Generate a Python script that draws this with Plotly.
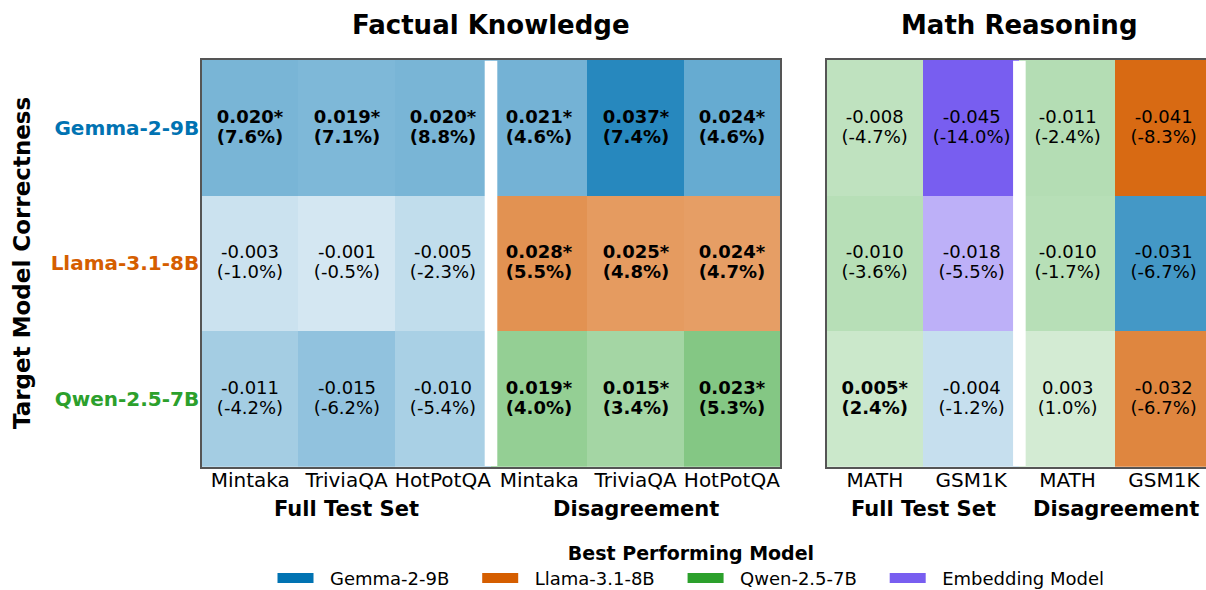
import plotly.graph_objects as go

# ---------------- data ----------------
rows = ["Gemma-2-9B", "Llama-3.1-8B", "Qwen-2.5-7B"]

fk_cols = ["Mintaka", "TriviaQA", "HotPotQA", "Mintaka", "TriviaQA", "HotPotQA"]
fk_groups = ["Full Test Set"] * 3 + ["Disagreement"] * 3
fk_delta = [
    [0.020, 0.019, 0.020, 0.021, 0.037, 0.024],
    [-0.003, -0.001, -0.005, 0.028, 0.025, 0.024],
    [-0.011, -0.015, -0.010, 0.019, 0.015, 0.023],
]
fk_pct = [
    [7.6, 7.1, 8.8, 4.6, 7.4, 4.6],
    [-1.0, -0.5, -2.3, 5.5, 4.8, 4.7],
    [-4.2, -6.2, -5.4, 4.0, 3.4, 5.3],
]
fk_sig = [
    [True, True, True, True, True, True],
    [False, False, False, True, True, True],
    [False, False, False, True, True, True],
]
fk_best = [
    ["Gemma-2-9B"] * 6,
    ["Gemma-2-9B"] * 3 + ["Llama-3.1-8B"] * 3,
    ["Gemma-2-9B"] * 3 + ["Qwen-2.5-7B"] * 3,
]

math_cols = ["MATH", "GSM1K", "MATH", "GSM1K"]
math_groups = ["Full Test Set"] * 2 + ["Disagreement"] * 2
math_delta = [
    [-0.008, -0.045, -0.011, -0.041],
    [-0.010, -0.018, -0.010, -0.031],
    [0.005, -0.004, 0.003, -0.032],
]
math_pct = [
    [-4.7, -14.0, -2.4, -8.3],
    [-3.6, -5.5, -1.7, -6.7],
    [2.4, -1.2, 1.0, -6.7],
]
math_sig = [
    [False, False, False, False],
    [False, False, False, False],
    [True, False, False, False],
]
math_best = [
    ["Qwen-2.5-7B", "Embedding Model", "Qwen-2.5-7B", "Llama-3.1-8B"],
    ["Qwen-2.5-7B", "Embedding Model", "Qwen-2.5-7B", "Gemma-2-9B"],
    ["Qwen-2.5-7B", "Gemma-2-9B", "Qwen-2.5-7B", "Llama-3.1-8B"],
]

legend_models = ["Gemma-2-9B", "Llama-3.1-8B", "Qwen-2.5-7B", "Embedding Model"]

# ---------------- style ----------------
model_colors = {
    "Gemma-2-9B": (1, 115, 178),
    "Llama-3.1-8B": (213, 94, 0),
    "Qwen-2.5-7B": (44, 160, 44),
    "Embedding Model": (120, 94, 240),
}
FONT = "DejaVu Sans"
W, H = 1206, 590
NB = "\u00a0"

max_abs = max(abs(v) for grid in (fk_delta, math_delta) for r in grid for v in r)


def hexc(rgb):
    return "#%02x%02x%02x" % tuple(int(round(c)) for c in rgb)


def cell_color(model, v):
    a = 0.15 + 0.85 * abs(v) / max_abs
    base = model_colors[model]
    return hexc([a * c + (1 - a) * 255 for c in base])


def build(delta, pct, sig, best):
    nr, nc = len(delta), len(delta[0])
    z, text, colors = [], [], []
    k = 0
    for i in range(nr):
        zr, tr = [], []
        for j in range(nc):
            zr.append(k)
            colors.append(cell_color(best[i][j], delta[i][j]))
            k += 1
            if sig[i][j]:
                s = "<b>%.3f*</b><br><b>(%.1f%%)</b>" % (delta[i][j], pct[i][j])
            else:
                s = "%.3f<br>(%.1f%%)" % (delta[i][j], pct[i][j])
            s = "<br>".join('<span style="font-size:18px">%s</span>' % part for part in s.split("<br>"))
            tr.append(s)
        z.append(zr)
        text.append(tr)
    n = len(colors)
    cs = [[i / (n - 1), c] for i, c in enumerate(colors)]
    return z, text, cs, n


fig = go.Figure()

for delta, pct, sig, best, cols, xa, ya in [
    (fk_delta, fk_pct, fk_sig, fk_best, fk_cols, "x", "y"),
    (math_delta, math_pct, math_sig, math_best, math_cols, "x2", "y2"),
]:
    z, text, cs, n = build(delta, pct, sig, best)
    fig.add_trace(go.Heatmap(
        x=list(range(len(cols))), y=list(range(len(rows))), z=z,
        colorscale=cs, zmin=0, zmax=n - 1, showscale=False,
        text=text, texttemplate="%{text}",
        textfont=dict(family=FONT, size=15.4, color="black"),
        hoverinfo="skip", xaxis=xa, yaxis=ya, showlegend=False,
    ))

for k, m in enumerate(legend_models):
    pad = NB * 4 if k < len(legend_models) - 1 else ""
    fig.add_trace(go.Scatter(
        x=[None], y=[None], mode="lines", name=NB * 2 + m + pad,
        line=dict(color=hexc(model_colors[m]), width=14),
        xaxis="x", yaxis="y",
    ))

# ---------------- layout ----------------
y0, y1 = 1 - 466.7 / H, 1 - 60 / H
lx0, lx1 = 202 / W, 780 / W
rx0 = 826.7 / W
col_px = (780 - 202) / 6
r_range_end = -0.5 + (W - 826.7) / col_px

row_colors = [hexc(model_colors[r]) for r in rows]
ytext = ['<b><span style="color:%s">%s</span></b>' % (c, r) for c, r in zip(row_colors, rows)]

axis_common = dict(showgrid=False, zeroline=False, ticks="", showline=True,
                   linecolor="#555", linewidth=1.5)

fig.update_layout(
    width=W, height=H,
    margin=dict(l=0, r=0, t=0, b=0, autoexpand=False),
    paper_bgcolor="white", plot_bgcolor="white",
    font=dict(family=FONT, color="black"),
    xaxis=dict(domain=[lx0, lx1], range=[-0.5, len(fk_cols) - 0.5], anchor="y",
               tickvals=list(range(len(fk_cols))), ticktext=fk_cols, ticklabelstandoff=-5,
               tickfont=dict(size=20), mirror=True, **axis_common),
    yaxis=dict(domain=[y0, y1], range=[len(rows) - 0.5, -0.5], anchor="x",
               tickvals=list(range(len(rows))), ticktext=ytext, ticklabelstandoff=-3,
               tickfont=dict(size=20), mirror=True, **axis_common),
    xaxis2=dict(domain=[rx0, 1.0], range=[-0.5, r_range_end], anchor="y2",
                tickvals=list(range(len(math_cols))), ticktext=math_cols, ticklabelstandoff=-5,
                tickfont=dict(size=20), mirror=True, **axis_common),
    yaxis2=dict(domain=[y0, y1], range=[len(rows) - 0.5, -0.5], anchor="x2",
                showticklabels=False, mirror=False, **axis_common),
    legend=dict(orientation="h", x=691 / W, xanchor="center", y=1 - 535 / H, yanchor="top",
                font=dict(size=18), title=dict(text="<b>Best Performing Model</b>", side="top center",
                                               font=dict(size=19)),
                itemwidth=36),
)


# group separators (white gaps)
def add_gap(xref, yref, groups):
    for j in range(1, len(groups)):
        if groups[j] != groups[j - 1]:
            fig.add_shape(type="line", xref=xref, yref=yref + " domain",
                          x0=j - 0.5, x1=j - 0.5, y0=0.002, y1=0.998,
                          line=dict(color="white", width=12.6), layer="above")


add_gap("x", "y", fk_groups)
add_gap("x2", "y2", math_groups)


# group labels
def add_group_labels(xref, groups):
    seen = []
    for g in groups:
        if g not in seen:
            seen.append(g)
    for g in seen:
        idx = [j for j, gg in enumerate(groups) if gg == g]
        fig.add_annotation(x=sum(idx) / len(idx), xref=xref, y=1 - 509 / H, yref="paper",
                           text="<b>%s</b>" % g, showarrow=False, font=dict(size=21),
                           xanchor="center", yanchor="middle")


add_group_labels("x", fk_groups)
add_group_labels("x2", math_groups)

# panel titles
fig.add_annotation(x=(len(fk_cols) - 1) / 2, xref="x", y=1 - 25 / H, yref="paper",
                   text="<b>Factual Knowledge</b>", showarrow=False, font=dict(size=26),
                   xanchor="center", yanchor="middle")
fig.add_annotation(x=(len(math_cols) - 1) / 2, xref="x2", y=1 - 25 / H, yref="paper",
                   text="<b>Math Reasoning</b>", showarrow=False, font=dict(size=26),
                   xanchor="center", yanchor="middle")

# y axis title
fig.add_annotation(x=22 / W, xref="paper", y=1 - 263 / H, yref="paper",
                   text="<b>Target Model Correctness</b>", showarrow=False, textangle=-90,
                   font=dict(size=23), xanchor="center", yanchor="middle")

fig.write_html("out.html", config={"displayModeBar": False},
               post_script="document.body.style.margin='0';document.body.style.overflow='hidden';")
